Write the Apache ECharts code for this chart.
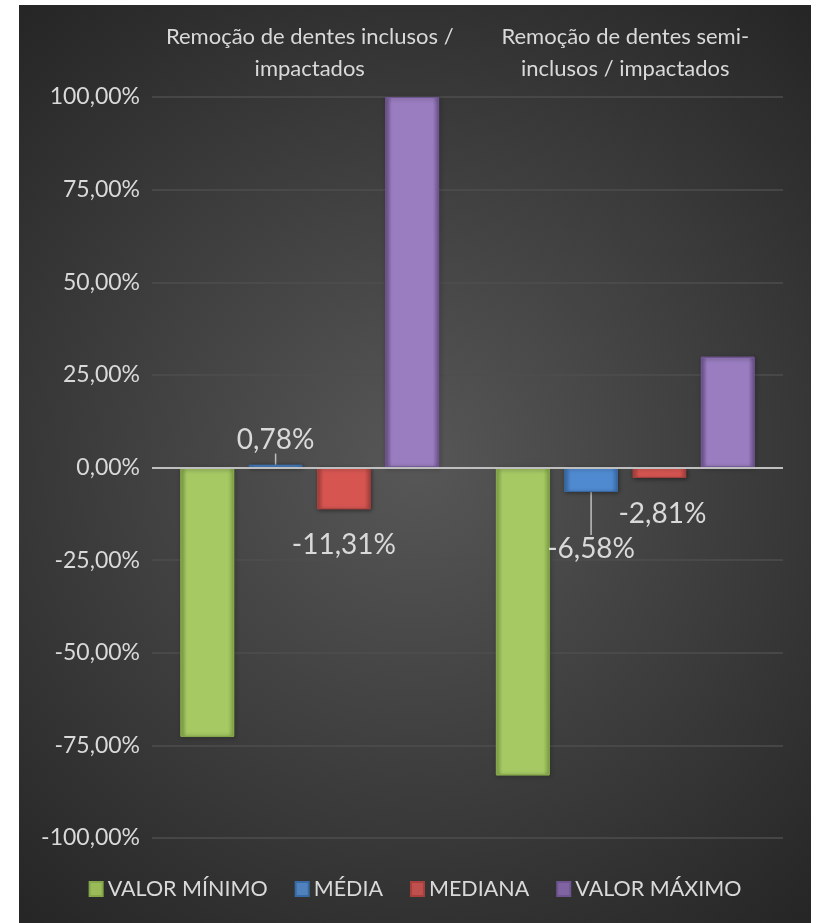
<!DOCTYPE html>
<html>
<head>
<meta charset="utf-8">
<script src="https://cdn.jsdelivr.net/npm/echarts@6/dist/echarts.min.js"></script>
<style>
  html, body { margin: 0; padding: 0; background: #fff; }
  #chart { position: absolute; left: 19px; top: 5px; width: 792px; height: 918px; }
</style>
</head>
<body>
<div id="chart"></div>
<script>
// categories and series values (percent)
const categories = ['Remoção de dentes inclusos /\nimpactados', 'Remoção de dentes semi-\ninclusos / impactados']
const valorMinimo = [-72.7, -83.1]
const media = [0.78, -6.58]
const mediana = [-11.31, -2.81]
const valorMaximo = [100, 29.9]
const seriesNames = ['VALOR MÍNIMO', 'MÉDIA', 'MEDIANA', 'VALOR MÁXIMO']

const FONT = 'Lato'
const TEXT = '#d9d9d9'

function fmt(v) {
  return v.toFixed(2).replace('.', ',') + '%'
}

// bevel-ish fill: darker edges, lighter middle
function bevel(light, dark) {
  return {
    type: 'linear', x: 0, y: 0, x2: 1, y2: 0,
    colorStops: [
      { offset: 0, color: dark },
      { offset: 0.12, color: light },
      { offset: 0.88, color: light },
      { offset: 1, color: dark },
    ],
  }
}

const palette = [
  { light: '#a6c964', dark: '#86a84a', icon: '#9bbb59' },
  { light: '#4f8ad0', dark: '#3a6aa5', icon: '#4f81bd' },
  { light: '#d65551', dark: '#a8403d', icon: '#c0504d' },
  { light: '#9a7dc0', dark: '#6f5590', icon: '#8064a2' },
]

const dataLabel = {
  show: true,
  fontFamily: FONT,
  fontSize: 28,
  color: TEXT,
  formatter: p => fmt(p.value),
}

function mkSeries(i, values, extra) {
  return Object.assign({
    name: seriesNames[i],
    type: 'bar',
    data: values,
    barGap: '27%',
    barCategoryGap: '18%',
    itemStyle: {
      color: bevel(palette[i].light, palette[i].dark),
      borderColor: palette[i].dark,
      borderWidth: 1,
      shadowColor: 'rgba(0,0,0,0.45)',
      shadowBlur: 4,
      shadowOffsetX: 1,
      shadowOffsetY: 1,
    },
  }, extra || {})
}

const chart = echarts.init(document.getElementById('chart'))
chart.setOption({
  backgroundColor: {
    type: 'radial', x: 0.5, y: 0.5, r: 0.75,
    colorStops: [
      { offset: 0, color: '#575757' },
      { offset: 1, color: '#262626' },
    ],
  },
  textStyle: { fontFamily: FONT },
  legend: {
    bottom: 18,
    left: 'center',
    itemWidth: 13,
    itemHeight: 14,
    itemGap: 27,
    icon: 'rect',
    textStyle: { color: TEXT, fontSize: 21.5, fontFamily: FONT },
    data: seriesNames.map((n, i) => ({ name: n, itemStyle: { color: palette[i].icon } })),
  },
  grid: { left: 133, right: 28, top: 92, bottom: 85 },
  xAxis: {
    type: 'category',
    position: 'top',
    data: categories,
    axisLine: { show: false },
    axisTick: { show: false },
    axisLabel: {
      color: TEXT, fontSize: 22, fontFamily: FONT, lineHeight: 32, margin: 12,
      interval: 0,
    },
  },
  yAxis: {
    type: 'value',
    min: -100,
    max: 100,
    interval: 25,
    axisLine: { show: false },
    axisTick: { show: false },
    axisLabel: {
      color: TEXT, fontSize: 23, fontFamily: FONT, margin: 12,
      formatter: v => fmt(v),
    },
    splitLine: { lineStyle: { color: '#4e4e4e', width: 1.5 } },
  },
  series: [
    mkSeries(0, valorMinimo),
    mkSeries(1, [
      { value: media[0], label: { position: 'top', distance: 11 } },
      { value: media[1], label: { position: 'bottom', distance: 5 } },
    ], {
      label: dataLabel,
      labelLine: { show: true, lineStyle: { color: '#bfbfbf', width: 1.5 } },
      labelLayout: p => (p.dataIndex === 1 ? { dy: 38 } : {}),
    }),
    mkSeries(2, mediana, {
      label: Object.assign({}, dataLabel, { position: 'bottom', distance: 22 }),
      labelLayout: p => (p.dataIndex === 1 ? { dx: 3 } : {}),
    }),
    mkSeries(3, valorMaximo, {
      markLine: {
        silent: true,
        symbol: 'none',
        label: { show: false },
        lineStyle: { color: '#bfbfbf', width: 2, type: 'solid' },
        data: [{ yAxis: 0 }],
      },
    }),
  ],
})
</script>
</body>
</html>
